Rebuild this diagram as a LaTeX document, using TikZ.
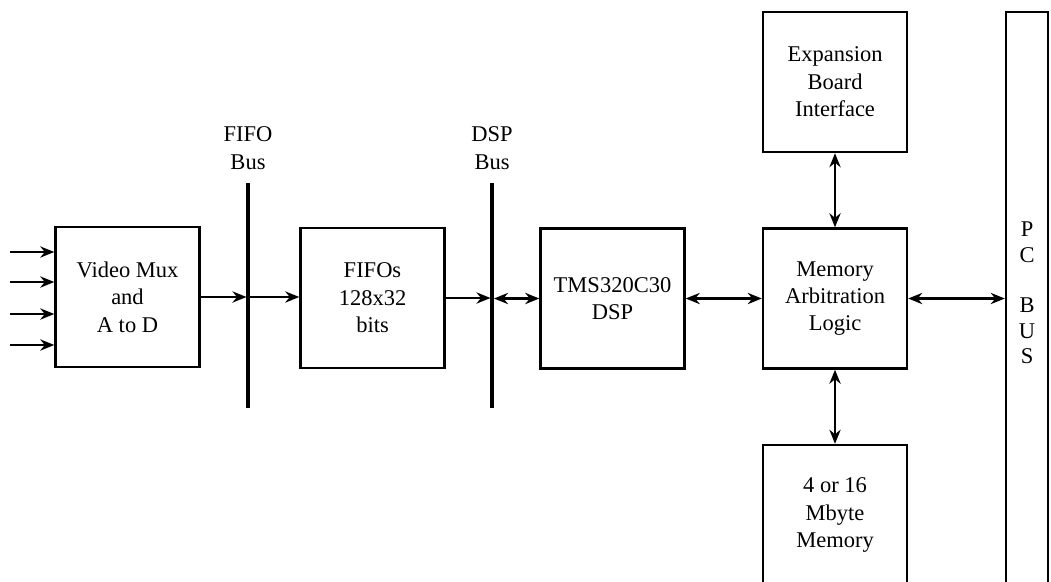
\documentclass[tikz,border=0pt]{standalone}
\usepackage{fontspec}
\setmainfont{Liberation Serif}
\usetikzlibrary{arrows.meta,positioning,calc}

\begin{document}
\begin{tikzpicture}[x=0.025cm,y=-0.025cm,
  blk/.style={draw,line width=1.7pt,minimum width=3.6cm,minimum height=3.5cm,align=center,inner sep=0pt,font=\fontsize{16}{19.5}\selectfont},
  lbl/.style={align=center,font=\fontsize{16}{19.5}\selectfont},
  bus/.style={line width=3.2pt},
  arr/.style={line width=1.5pt,-{Stealth[length=10pt,width=8pt]}},
  darr/.style={line width=1.5pt,{Stealth[length=10pt,width=8pt]}-{Stealth[length=10pt,width=8pt]}}]
\useasboundingbox (0,0) rectangle (1051,581);
\clip (0,0) rectangle (1051,581);
% processing chain
\node[blk] (vmux) at (127.5,297) {Video Mux\\and\\A to D};
\node[blk] (fifo) at (372.5,298) {FIFOs\\128x32\\bits};
\node[blk] (dsp) at (612.5,298.5) {TMS320C30\\DSP};
\node[blk] (arb) at (835,298.5) {Memory\\Arbitration\\Logic};
\node[blk] (exp) at (835,82) {Expansion\\Board\\Interface};
\node[blk] (mem) at (835,515) {4 or 16\\Mbyte\\Memory};
% PC bus
\node[draw,line width=1.7pt,minimum width=1.05cm,minimum height=15cm,inner sep=0pt] (pcbus) at (1027,312) {};
\node[lbl,font=\fontsize{16}{18}\selectfont] (pctext) at (1027,293) {P\\C\\[18pt]B\\U\\S};
% buses
\coordinate (fbtop) at (248,183);
\coordinate (fbbot) at (248,408);
\coordinate (dbtop) at (492,183);
\coordinate (dbbot) at (492,408);
\draw[bus] (fbtop) -- (fbbot);
\draw[bus] (dbtop) -- (dbbot);
\node[lbl] (fblbl) at (248,148) {FIFO\\Bus};
\node[lbl] (dblbl) at (492,148) {DSP\\Bus};
% inputs
\foreach \y [count=\i] in {252,282,314,345} {
  \coordinate (in\i) at (10,\y);
  \draw[arr] (in\i) -- (in\i -| vmux.west);
}
% connectors
\draw[arr] (vmux.east) -- ($(vmux.east -| fbtop)+(-1.5,0)$);
\draw[arr] ($(vmux.east -| fbtop)+(1.5,0)$) -- (vmux.east -| fifo.west);
\draw[arr] (fifo.east) -- ($(fifo.east -| dbtop)+(-1.5,0)$);
\draw[darr] ($(dsp.west -| dbtop)+(2,0)$) -- (dsp.west);
\draw[darr] (dsp.east) -- (arb.west);
\draw[darr] (arb.east) -- (arb.east -| pcbus.west);
\draw[darr] (exp.south) -- (arb.north);
\draw[darr] (arb.south) -- (mem.north);
\end{tikzpicture}
\end{document}
